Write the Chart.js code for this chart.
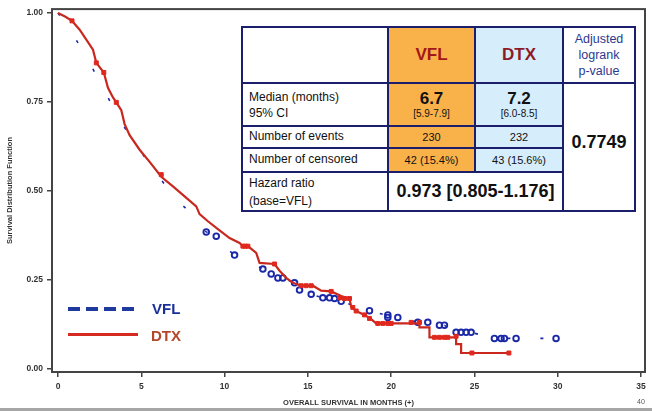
<!DOCTYPE html>
<html>
<head>
<meta charset="utf-8">
<script src="https://cdn.jsdelivr.net/npm/chart.js@4/dist/chart.umd.min.js"></script>
<style>
  html,body{margin:0;padding:0;background:#fff;}
  #wrap{position:relative;width:652px;height:411px;overflow:hidden;font-family:"Liberation Sans",Arial,sans-serif;}
  canvas{position:absolute;left:0;top:0;}
  .cell{position:absolute;display:flex;flex-direction:column;align-items:center;justify-content:center;box-sizing:border-box;color:#111;text-align:center;line-height:1.15;}
  .lab{align-items:flex-start;padding-left:6px;text-align:left;}
  #tbl{position:absolute;left:241px;top:26px;width:395px;height:186px;background:#1b1e6b;}
  .leg{position:absolute;}
</style>
</head>
<body>
<div id="wrap">
  <canvas id="c" width="652" height="411"></canvas>
  <div id="tbl"></div>
  <div class="leg" style="left:68px;top:307px;width:69px;height:3.5px;background:repeating-linear-gradient(to right,#1f3a9e 0 12px,transparent 12px 18px);"></div>
  <div class="leg" style="left:152px;top:300px;font:bold 15px 'Liberation Sans',Arial;color:#1a2f9a;">VFL</div>
  <div class="leg" style="left:68px;top:333px;width:70px;height:3px;background:#d42a20;"></div>
  <div class="leg" style="left:151px;top:327px;font:bold 15px 'Liberation Sans',Arial;color:#b5462a;">DTX</div>
  <div class="leg" style="left:0;top:408px;width:652px;height:3px;background:#a6a6a6;"></div>
  <div class="leg" style="left:637px;top:398px;font:7px 'Liberation Sans',Arial;color:#555;">40</div>
</div>
<script>
// ---- data ----
const xTickValues = [0, 5, 10, 15, 20, 25, 30, 35];
const yTickValues = [0, 0.25, 0.5, 0.75, 1];

const dtxTime = [0,0.42,0.84,1.3,1.7,2.1,2.3,2.75,3.0,3.3,3.5,3.8,4.0,4.3,4.9,5.5,6.2,6.9,7.6,8.3,8.5,9.0,9.6,10.3,10.9,11.1,11.4,11.9,12.1,13.0,13.3,13.7,14.1,14.6,15.3,15.8,16.4,17.0,17.5,17.6,17.9,18.4,18.8,19.1,21.7,21.7,22.3,22.3,23.9,23.9,24.2,24.2,27.1];
const dtxSurv = [1.0,0.99,0.978,0.953,0.925,0.897,0.86,0.833,0.79,0.763,0.749,0.727,0.688,0.657,0.616,0.582,0.54,0.513,0.485,0.457,0.435,0.415,0.393,0.368,0.354,0.345,0.345,0.326,0.298,0.295,0.276,0.256,0.242,0.234,0.234,0.22,0.218,0.205,0.198,0.175,0.163,0.152,0.14,0.128,0.128,0.117,0.117,0.089,0.089,0.07,0.07,0.045,0.045];

const vflTime = [0,0.9,1.9,2.8,3.9,5.6,7.1,8.0,8.9,9.5,10.1,10.6,12.3,12.8,13.3,13.5,14.2,14.5,15.2,15.9,16.6,17.0,18.7,19.8,20.4,21.6,22.2,22.9,23.2,23.8,24.8,26.2,30.0];
const vflSurv = [1.0,0.94,0.86,0.78,0.685,0.568,0.476,0.437,0.385,0.373,0.34,0.32,0.281,0.267,0.256,0.256,0.242,0.222,0.21,0.2,0.198,0.19,0.164,0.15,0.145,0.131,0.131,0.123,0.123,0.103,0.103,0.086,0.086];

const dtxCensT = [0.84,2.3,2.75,3.5,6.2,11.1,11.25,11.4,13.0,14.6,14.9,15.2,16.4,16.9,17.2,17.5,17.7,17.9,18.4,18.7,19.2,19.5,19.8,20.0,21.2,21.7,22.6,22.9,23.2,23.4,23.9,24.85,27.07];
const dtxCensS = [0.978,0.86,0.833,0.749,0.546,0.345,0.345,0.345,0.295,0.234,0.234,0.234,0.218,0.2,0.198,0.198,0.173,0.163,0.152,0.142,0.128,0.128,0.128,0.128,0.131,0.131,0.089,0.089,0.089,0.089,0.092,0.045,0.045];

const vflCensT = [8.9,9.5,10.6,12.3,12.8,13.2,13.5,14.2,14.5,15.2,15.9,16.3,16.6,17.0,18.7,19.8,19.8,20.4,21.6,22.2,22.9,23.2,23.9,24.2,24.5,24.8,26.2,26.6,26.8,27.5,29.9];
const vflCensS = [0.385,0.373,0.32,0.281,0.267,0.256,0.256,0.242,0.222,0.21,0.2,0.2,0.198,0.19,0.164,0.152,0.145,0.145,0.131,0.131,0.123,0.123,0.103,0.103,0.103,0.103,0.086,0.086,0.086,0.086,0.086];

// table texts
const colHeads = ['VFL', 'DTX'];
const medians = ['6.7', '7.2'];
const medianCI = ['[5.9-7.9]', '[6.0-8.5]'];
const events = ['230', '232'];
const censored = ['42 (15.4%)', '43 (15.6%)'];
const hazardText = '0.973 [0.805-1.176]';
const pValue = '0.7749';

const pts = (xs, ys) => xs.map((x, i) => ({x: x, y: ys[i]}));

// ---- table (HTML overlay) ----
const tbl = document.getElementById('tbl');
const X0 = 241, Y0 = 26;
function cell(x1, y1, x2, y2, bg, html, cls) {
  const d = document.createElement('div');
  d.className = 'cell' + (cls ? ' ' + cls : '');
  d.style.left = (x1 - X0) + 'px'; d.style.top = (y1 - Y0) + 'px';
  d.style.width = (x2 - x1) + 'px'; d.style.height = (y2 - y1) + 'px';
  d.style.background = bg;
  d.innerHTML = html;
  tbl.appendChild(d);
}
const ORG = '#f9b24a', BLU = '#d6edfb', W = '#ffffff';
const lbl = s => '<span style="font-size:12px;">' + s + '</span>';
cell(243, 28, 387, 82, W, '');
cell(389, 28, 474, 82, ORG, '<span style="font-weight:bold;font-size:17px;color:#a3161a;">' + colHeads[0] + '</span>');
cell(476, 28, 562, 82, BLU, '<span style="font-weight:bold;font-size:17px;color:#8e1a26;">' + colHeads[1] + '</span>');
cell(564, 28, 634, 82, W, '<span style="font-size:12.5px;line-height:16px;color:#2b3990;">Adjusted<br>logrank<br>p-value</span>');
cell(243, 84, 387, 125, W, '<span style="font-size:12px;line-height:16px;">Median (months)<br>95% CI</span>', 'lab');
cell(389, 84, 474, 125, ORG, '<span style="font-weight:bold;font-size:17px;line-height:18px;">' + medians[0] + '</span><span style="font-size:10px;">' + medianCI[0] + '</span>');
cell(476, 84, 562, 125, BLU, '<span style="font-weight:bold;font-size:17px;line-height:18px;">' + medians[1] + '</span><span style="font-size:10px;">' + medianCI[1] + '</span>');
cell(243, 127, 387, 147, W, lbl('Number of events'), 'lab');
cell(389, 127, 474, 147, ORG, '<span style="font-size:11px;">' + events[0] + '</span>');
cell(476, 127, 562, 147, BLU, '<span style="font-size:11px;">' + events[1] + '</span>');
cell(243, 149, 387, 171, W, lbl('Number of censored'), 'lab');
cell(389, 149, 474, 171, ORG, '<span style="font-size:11px;">' + censored[0] + '</span>');
cell(476, 149, 562, 171, BLU, '<span style="font-size:11px;">' + censored[1] + '</span>');
cell(243, 173, 387, 210, W, '<span style="font-size:12px;line-height:18px;">Hazard ratio<br>(base=VFL)</span>', 'lab');
cell(389, 173, 562, 210, W, '<span style="font-weight:bold;font-size:18px;">' + hazardText + '</span>');
cell(564, 84, 634, 210, W, '<span style="font-weight:bold;font-size:18px;margin-bottom:10px;">' + pValue + '</span>');

// ---- chart ----
const framePlugin = {
  id: 'frame',
  beforeDatasetsDraw(chart) {
    const {ctx, chartArea: a} = chart;
    ctx.save();
    ctx.strokeStyle = '#444';
    ctx.lineWidth = 2;
    ctx.strokeRect(a.left, a.top, a.right - a.left, a.bottom - a.top);
    ctx.restore();
  }
};

const tickFont = {family: "'Liberation Sans', Arial, sans-serif", size: 8.5, weight: 'bold'};
new Chart(document.getElementById('c'), {
  type: 'scatter',
  data: {
    datasets: [
      {label: 'DTX censored', data: pts(dtxCensT, dtxCensS), pointStyle: 'rect', pointRadius: 2.8,
       backgroundColor: '#e0281e', borderColor: '#e0281e', borderWidth: 1, order: 1},
      {label: 'DTX', data: pts(dtxTime, dtxSurv), showLine: true, borderColor: '#c8281e', borderWidth: 2.2,
       pointRadius: 0, order: 2},
      {label: 'VFL censored', data: pts(vflCensT, vflCensS), pointStyle: 'circle', pointRadius: 2.8,
       backgroundColor: 'rgba(255,255,255,0)', borderColor: '#1a28a8', borderWidth: 1.9, order: 3},
      {label: 'VFL', data: pts(vflTime, vflSurv), showLine: true, borderColor: '#1a28a8',
       borderWidth: 1.6, borderDash: [3, 30], pointRadius: 0, order: 4}
    ]
  },
  options: {
    responsive: false,
    animation: false,
    devicePixelRatio: 1,
    layout: {padding: {top: 6, right: 7, left: 0, bottom: 0}},
    plugins: {legend: {display: false}, tooltip: {enabled: false}},
    scales: {
      x: {
        type: 'linear', min: -0.36, max: 35.24,
        afterBuildTicks: s => { s.ticks = xTickValues.map(v => ({value: v})); },
        afterFit: s => { s.height = 39; },
        ticks: {font: tickFont, color: '#333', padding: 5, maxRotation: 0, autoSkip: false,
                callback: v => String(v)},
        grid: {display: true, drawOnChartArea: false, drawTicks: true, tickLength: 5, color: '#444', lineWidth: 1.5},
        border: {display: false},
        title: {display: true, text: 'OVERALL SURVIVAL IN MONTHS (+)', color: '#333',
                font: {family: "'Liberation Sans', Arial, sans-serif", size: 7.5, weight: 'bold'},
                padding: {top: 0, bottom: 4}}
      },
      y: {
        type: 'linear', min: -0.0084, max: 1.011,
        afterBuildTicks: s => { s.ticks = yTickValues.map(v => ({value: v})); },
        afterFit: s => { s.width = 52; },
        ticks: {font: tickFont, color: '#333', padding: 4, autoSkip: false,
                callback: v => Number(v).toFixed(2)},
        grid: {display: true, drawOnChartArea: false, drawTicks: true, tickLength: 5, color: '#444', lineWidth: 1.5},
        border: {display: false},
        title: {display: true, text: 'Survival Distribution Function', color: '#333',
                font: {family: "'Liberation Sans', Arial, sans-serif", size: 7.5, weight: 'bold'},
                padding: {top: 5, bottom: 0}}
      }
    }
  },
  plugins: [framePlugin]
});
</script>
</body>
</html>
